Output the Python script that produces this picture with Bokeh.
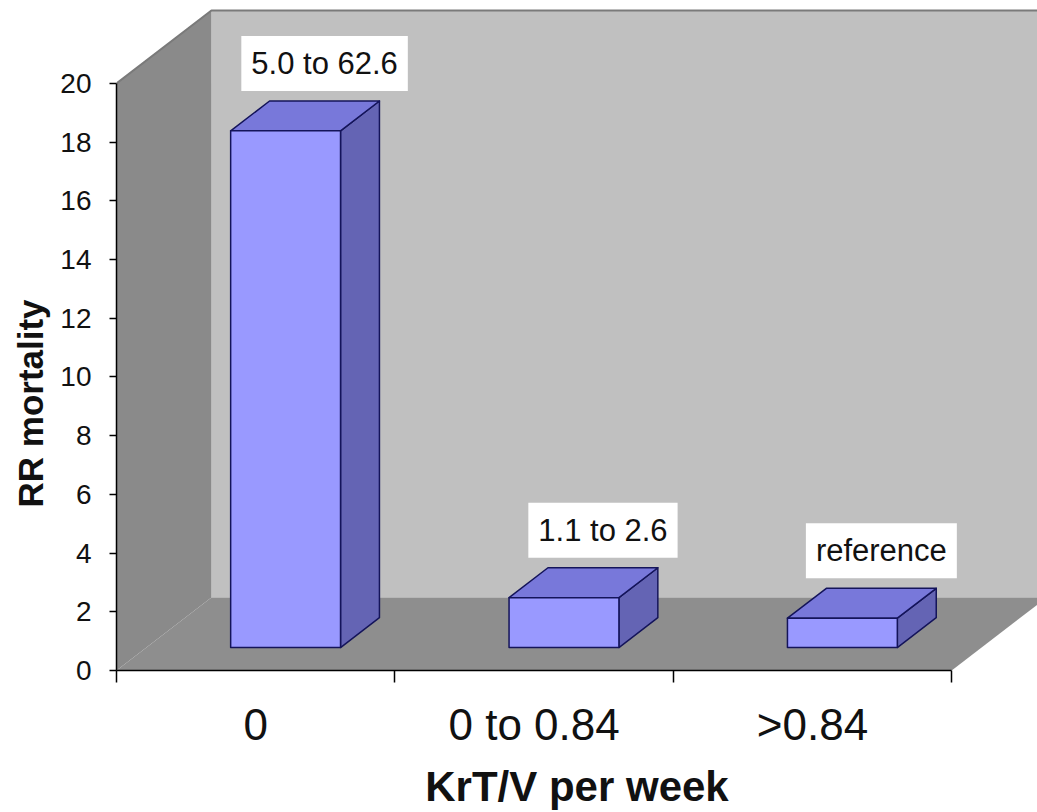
import math
from bokeh.plotting import figure
from bokeh.models import Range1d, FixedTicker, Label, Title
from bokeh.embed import file_html
from bokeh.resources import INLINE

# ---- data ----
categories = ["0", "0 to 0.84", ">0.84"]
rr_values = [17.6, 1.7, 1.0]
ci_labels = ["5.0 to 62.6", "1.1 to 2.6", "reference"]
y_ticks = [0, 2, 4, 6, 8, 10, 12, 14, 16, 18, 20]
x_title = "KrT/V per week"
y_title = "RR mortality"

# ---- layout constants (pixels per data unit, 3-D depth) ----
W, H = 1037, 812
LEFT, BOTTOM = 115, 812 - 671
PX_X = 278.7            # pixels per category
PX_Y = 29.4             # pixels per RR unit
FRAME_W, FRAME_H = W - LEFT, H - BOTTOM
DX = 95 / PX_X          # depth of the chart box, in x units
DY = 73 / PX_Y          # depth of the chart box, in y units
BAR_W = 110 / PX_X
F0 = 0.315              # bar front position (fraction of depth)
BD = 0.41               # bar depth (fraction of depth)
YMAX = y_ticks[-1]
NCAT = len(categories)

FONT = "Liberation Sans"

p = figure(width=W, height=H, output_backend="svg", toolbar_location=None,
           x_range=Range1d(0, FRAME_W / PX_X), y_range=Range1d(0, FRAME_H / PX_Y),
           min_border_left=LEFT, min_border_right=0, min_border_top=0, min_border_bottom=BOTTOM)
p.outline_line_color = None
p.xgrid.visible = False
p.ygrid.visible = False
p.background_fill_color = "white"
p.border_fill_color = "white"

# ---- walls and floor ----
side_xs = [0, DX, DX, 0]
side_ys = [0, DY, YMAX + DY, YMAX]
floor_xs = [0, NCAT, NCAT + DX, DX]
floor_ys = [0, 0, DY, DY]
back_xs = [DX, NCAT + DX, NCAT + DX, DX]
back_ys = [DY, DY, YMAX + DY, YMAX + DY]
p.patch(back_xs, back_ys, fill_color="#c0c0c0", line_color=None)
p.patch(side_xs, side_ys, fill_color="#8a8a8a", line_color=None)
p.patch(floor_xs, floor_ys, fill_color="#8e8e8e", line_color=None)
p.line([0, DX, NCAT + DX], [YMAX, YMAX + DY, YMAX + DY], line_color="#7a7a7a", line_width=2)

# ---- 3-D bars ----
bdx, bdy = BD * DX, BD * DY
front_xs, front_ys, top_xs, top_ys, right_xs, right_ys = [], [], [], [], [], []
for i, v in enumerate(rr_values):
    c = i + 0.5
    xl = c - BAR_W / 2 + F0 * DX
    xr = xl + BAR_W
    yb = F0 * DY
    yt = yb + v
    front_xs.append([xl, xr, xr, xl]); front_ys.append([yb, yb, yt, yt])
    top_xs.append([xl, xr, xr + bdx, xl + bdx]); top_ys.append([yt, yt, yt + bdy, yt + bdy])
    right_xs.append([xr, xr + bdx, xr + bdx, xr]); right_ys.append([yb, yb + bdy, yt + bdy, yt])

edge = dict(line_color="#14145a", line_width=1.5, line_join="round")
p.patches(right_xs, right_ys, fill_color="#6464b4", **edge)
p.patches(top_xs, top_ys, fill_color="#7878da", **edge)
p.patches(front_xs, front_ys, fill_color="#9999ff", **edge)

# ---- CI labels ----
for i, (v, t) in enumerate(zip(rr_values, ci_labels)):
    c = i + 0.5
    lab = Label(x=c + F0 * DX + 0.14, y=F0 * DY + v + bdy, y_offset=10,
                text=t, text_align="center", text_baseline="bottom",
                text_font=FONT, text_font_size="31px", text_color="#111111",
                background_fill_color="white", padding=10)
    p.add_layout(lab)

# ---- axes ----
ya = p.yaxis[0]
ya.ticker = FixedTicker(ticks=y_ticks)
ya.bounds = (0, YMAX)
ya.major_tick_out = 7
ya.major_tick_in = 0
ya.minor_tick_line_color = None
ya.major_label_standoff = 18
ya.axis_line_width = 1.5
ya.major_tick_line_width = 1.5
ya.major_label_text_font = FONT
ya.major_label_text_font_size = "28px"
ya.major_label_text_color = "#111111"

xa = p.xaxis[0]
xa.ticker = FixedTicker(ticks=[i + 0.5 for i in range(NCAT)],
                        minor_ticks=list(range(NCAT + 1)))
xa.major_label_overrides = {i + 0.5: c for i, c in enumerate(categories)}
xa.bounds = (0, NCAT)
xa.major_tick_line_color = None
xa.major_tick_out = 0
xa.major_tick_in = 0
xa.minor_tick_out = 12
xa.minor_tick_in = 0
xa.minor_tick_line_color = "black"
xa.minor_tick_line_width = 1.5
xa.axis_line_width = 1.5
xa.major_label_standoff = 17
xa.major_label_text_font = FONT
xa.major_label_text_font_size = "44px"
xa.major_label_text_color = "#111111"
xa.axis_label = x_title
xa.axis_label_standoff = 11
xa.axis_label_text_font = FONT
xa.axis_label_text_font_size = "42px"
xa.axis_label_text_font_style = "bold"
xa.axis_label_text_color = "#111111"

# ---- y axis title ----
p.add_layout(Title(text=y_title, align="left", offset=163, text_font=FONT,
                   text_font_size="35px", text_font_style="bold",
                   text_color="#111111", standoff=16), "left")

open("out.html", "w").write(file_html(p, INLINE))
